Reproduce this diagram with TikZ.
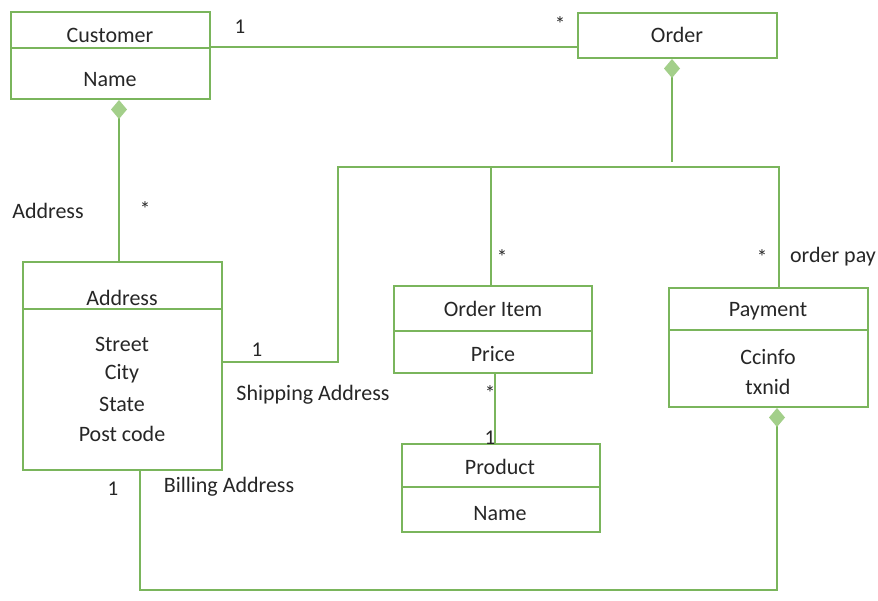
\documentclass[tikz,border=0pt]{standalone}
\usepackage{fontspec}
\setmainfont{Carlito}
\usetikzlibrary{arrows.meta}
\definecolor{umlgreen}{HTML}{7AB55C}
\definecolor{diafill}{HTML}{A3CF8A}
\definecolor{ink}{HTML}{262626}
\tikzset{
  classbox/.style={draw=umlgreen, line width=2pt, rectangle, inner sep=0pt},
  lbl/.style={text=ink, font=\fontsize{22}{26}\selectfont, inner sep=1pt},
  mult/.style={text=ink, font=\fontsize{21}{25}\selectfont, inner sep=1pt},
  link/.style={draw=umlgreen, line width=2pt},
  comp/.style={link, {Diamond[length=19pt,width=16pt,color=diafill,fill=diafill]}-}
}
\begin{document}
\begin{tikzpicture}[x=1pt,y=-1pt]
\useasboundingbox (0,0) rectangle (878,600);

% class boxes
\node[classbox, minimum width=199pt, minimum height=87pt] (cust) at (110.5,55.5) {};
\node[classbox, minimum width=199pt, minimum height=45pt] (order) at (677.5,35.5) {};
\node[classbox, minimum width=199pt, minimum height=208pt] (addr) at (122.5,366) {};
\node[classbox, minimum width=198pt, minimum height=87pt] (oitem) at (493,329.5) {};
\node[classbox, minimum width=199pt, minimum height=119pt] (pay) at (768.5,347.5) {};
\node[classbox, minimum width=198pt, minimum height=88pt] (prod) at (501,488) {};

% compartment dividers
\draw[link] (cust.west |- 0,48) -- (cust.east |- 0,48);
\draw[link] (addr.west |- 0,309) -- (addr.east |- 0,309);
\draw[link] (oitem.west |- 0,331) -- (oitem.east |- 0,331);
\draw[link] (pay.west |- 0,330) -- (pay.east |- 0,330);
\draw[link] (prod.west |- 0,487) -- (prod.east |- 0,487);

% class names and attributes
\node[lbl] (custN) at (110,35) {Customer};
\node[lbl] (custA) at (110,80) {Name};
\node[lbl] (orderN) at (677,35) {Order};
\node[lbl] (addrN) at (122,298) {Address};
\node[lbl] (addrA1) at (122,344) {Street};
\node[lbl] (addrA2) at (122,374) {City};
\node[lbl] (addrA3) at (122,404) {State};
\node[lbl] (addrA4) at (122,434) {Post code};
\node[lbl] (oitemN) at (493,309) {Order Item};
\node[lbl] (oitemA) at (493,354) {Price};
\node[lbl] (payN) at (768,311) {Payment};
\node[lbl] (payA1) at (768,357) {Ccinfo};
\node[lbl] (payA2) at (768,387) {txnid};
\node[lbl] (prodN) at (500,467) {Product};
\node[lbl] (prodA) at (500,514) {Name};

% junction points of the order tree and billing route
\coordinate (treeTop) at (672,162);
\coordinate (jShipTop) at (338,167);
\coordinate (jShipBot) at (338,362);
\coordinate (jItem) at (491,167);
\coordinate (jPay) at (779,167);
\coordinate (billR) at (777,590);
\coordinate (billL) at (140,590);

% Customer -- Order
\draw[link] (cust.east |- 0,47) -- (order.west |- 0,47);

% Customer <>-- Address
\draw[comp] (cust.south -| 119,0) -- (addr.north -| 119,0);

% Order <>-- tree
\draw[comp] (order.south -| 672,0) -- (treeTop);
\draw[link] (addr.east |- jShipBot) -- (jShipBot) -- (jShipTop) -- (jPay) -- (pay.north -| jPay);
\draw[link] (jItem) -- (oitem.north -| jItem);

% Order Item -- Product
\draw[link] (oitem.south -| 495,0) -- (prod.north -| 495,0);

% Payment <>-- Address (billing)
\draw[comp] (pay.south -| billR) -- (billR) -- (billL) -- (addr.south -| billL);

% multiplicities and role names
\node[mult] (m1) at (240,27) {1};
\node[mult] (m2) at (560,24) {*};
\node[mult] (m3) at (145,209) {*};
\node[lbl] (rAddr) at (48,211) {Address};
\node[mult] (m4) at (257,350) {1};
\node[lbl] (rShip) at (313,395) {Shipping Address};
\node[mult] (m5) at (502,257) {*};
\node[mult] (m6) at (762,257) {*};
\node[lbl] (rPay) at (833,257) {order pay};
\node[mult] (m7) at (490,393) {*};
\node[mult] (m8) at (490,438) {1};
\node[mult] (m9) at (113,489) {1};
\node[lbl] (rBill) at (229,487) {Billing Address};
\end{tikzpicture}
\end{document}
